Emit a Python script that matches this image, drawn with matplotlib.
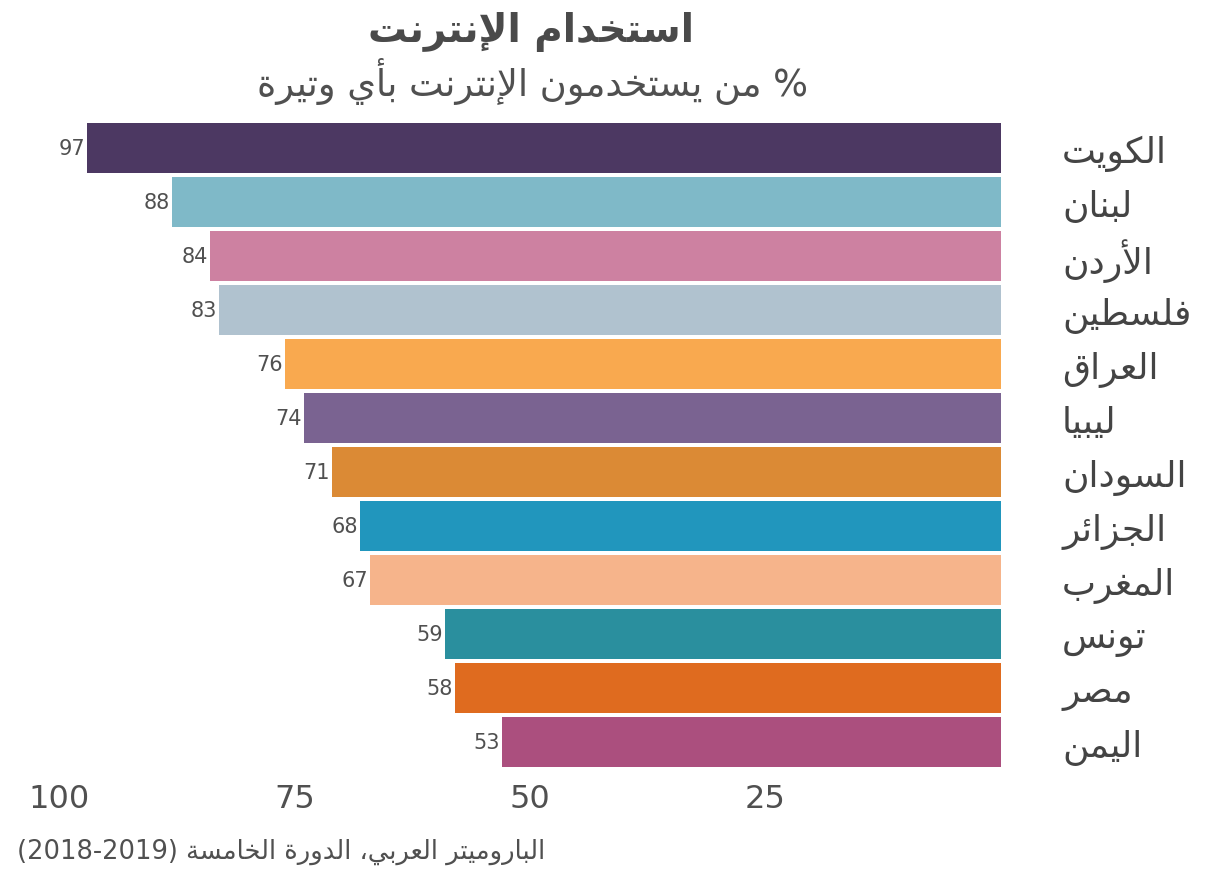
import matplotlib
matplotlib.use("Agg")
import matplotlib.pyplot as plt

plt.rcParams['font.family'] = ['DejaVu Sans']

# data
countries = ['الكويت', 'لبنان', 'الأردن', 'فلسطين', 'العراق', 'ليبيا',
             'السودان', 'الجزائر', 'المغرب', 'تونس', 'مصر', 'اليمن']
values = [97, 88, 84, 83, 76, 74, 71, 68, 67, 59, 58, 53]
colors = ['#4c3862', '#7fb9c8', '#cd81a1', '#b0c2cf', '#f9a94f', '#7a6391',
          '#db8a35', '#2196bd', '#f6b48b', '#2a8f9e', '#df6b1f', '#ab4f7e']
x_ticks = [100, 75, 50, 25]

title = 'استخدام الإنترنت'
subtitle = 'من يستخدمون الإنترنت بأي وتيرة'
source = 'الباروميتر العربي، الدورة الخامسة'
source_years = '(2018-2019)'

# matplotlib does no arabic shaping, so map letters to presentation forms by hand
_DUAL = {'ئ': 0xFE89, 'ب': 0xFE8F, 'ت': 0xFE95, 'ث': 0xFE99, 'ج': 0xFE9D,
         'ح': 0xFEA1, 'خ': 0xFEA5, 'س': 0xFEB1, 'ش': 0xFEB5, 'ص': 0xFEB9,
         'ض': 0xFEBD, 'ط': 0xFEC1, 'ظ': 0xFEC5, 'ع': 0xFEC9, 'غ': 0xFECD,
         'ف': 0xFED1, 'ق': 0xFED5, 'ك': 0xFED9, 'ل': 0xFEDD, 'م': 0xFEE1,
         'ن': 0xFEE5, 'ه': 0xFEE9, 'ي': 0xFEF1}
_RIGHT = {'آ': 0xFE81, 'أ': 0xFE83, 'ؤ': 0xFE85, 'إ': 0xFE87, 'ا': 0xFE8D,
          'ة': 0xFE93, 'د': 0xFEA9, 'ذ': 0xFEAB, 'ر': 0xFEAD, 'ز': 0xFEAF,
          'و': 0xFEED, 'ى': 0xFEEF}
_LAM_ALEF = {'آ': 0xFEF5, 'أ': 0xFEF7, 'إ': 0xFEF9, 'ا': 0xFEFB}


def ar(text):
    toks = []
    i = 0
    while i < len(text):
        c = text[i]
        if c == 'ل' and i + 1 < len(text) and text[i + 1] in _LAM_ALEF:
            toks.append(('R', _LAM_ALEF[text[i + 1]]))
            i += 2
            continue
        if c in _DUAL:
            toks.append(('D', _DUAL[c]))
        elif c in _RIGHT:
            toks.append(('R', _RIGHT[c]))
        else:
            toks.append(('N', c))
        i += 1
    out = []
    for k, (kind, val) in enumerate(toks):
        if kind == 'N':
            out.append(val)
            continue
        prev = k > 0 and toks[k - 1][0] == 'D'
        nxt = kind == 'D' and k + 1 < len(toks) and toks[k + 1][0] in 'DR'
        if kind == 'R':
            off = 1 if prev else 0
        else:
            off = {(False, False): 0, (True, False): 1,
                   (False, True): 2, (True, True): 3}[(prev, nxt)]
        out.append(chr(val + off))
    return ''.join(reversed(out))


text_col = '#505050'

fig = plt.figure(figsize=(12.3, 8.79), dpi=100)
ax = fig.add_axes([0.048, 0.124, 0.7658, 0.7372])

ypos = list(range(len(values)))
ax.barh(ypos, values, height=0.91, color=colors)
ax.set_xlim(100, 0)
ax.set_ylim(len(values) - 0.5, -0.5)

for y, v in zip(ypos, values):
    ax.annotate(str(v), xy=(v, y), xytext=(-2, 0), textcoords='offset pixels',
                ha='right', va='center', fontsize=15, color=text_col)

ax.set_xticks(x_ticks)
ax.set_xticklabels([str(t) for t in x_ticks], fontsize=23, color=text_col)
ax.set_yticks(ypos)
ax.set_yticklabels([ar(c) for c in countries], fontsize=26, color='#444444')
ax.yaxis.set_ticks_position('right')
ax.tick_params(axis='y', length=0, pad=44)
ax.tick_params(axis='x', length=0, pad=10)
for s in ax.spines.values():
    s.set_visible(False)

fig.text(0.432, 0.964, ar(title), ha='center', va='center',
         fontsize=28, fontweight='bold', color='#4a4a4a')
fig.text(0.433, 0.907, ar(subtitle) + ' %', ha='center', va='center',
         fontsize=26.5, color=text_col)
fig.text(0.014, 0.031, source_years + ' ' + ar(source), ha='left', va='center',
         fontsize=18.5, color=text_col)

fig.savefig('out.png', dpi=100)
